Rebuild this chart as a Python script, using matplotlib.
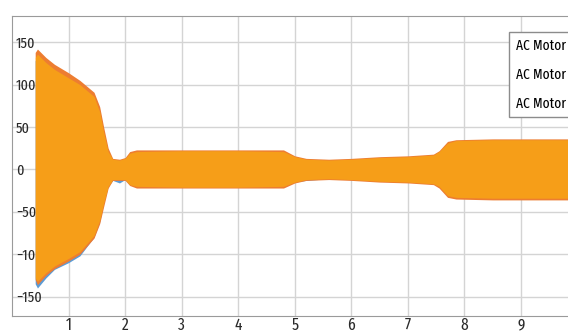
import matplotlib
matplotlib.use('Agg')
import matplotlib.pyplot as plt
import numpy as np

plt.rcParams['font.family'] = ['Fira Sans Extra Condensed', 'DejaVu Sans']

# envelope of the three phase currents (seconds, amps)
t = [0.41, 0.45, 0.6, 0.75, 1.0, 1.2, 1.45, 1.55, 1.62, 1.7, 1.78, 1.9, 2.0, 2.08, 2.2,
     3.0, 4.0, 4.8, 5.0, 5.2, 5.6, 6.0, 6.5, 7.0, 7.45, 7.55, 7.7, 7.85, 8.5, 9.0, 10.0]
i1_upper = [128, 134, 128, 120, 110, 102, 88, 70, 45, 22, 12, 11, 13, 19, 21,
            21, 21, 21, 15, 12, 11, 12, 14, 15, 17, 21, 30, 33, 34, 34, 34]
i1_lower = [-135, -140, -128, -118, -110, -102, -80, -62, -40, -20, -13, -16, -12, -18, -21,
            -21, -21, -21, -15, -13, -11, -12, -14, -15, -17, -21, -31, -33, -34, -34, -34]
i2_upper = [138, 142, 132, 124, 114, 105, 91, 74, 50, 25, 13, 12, 14, 21, 23,
            23, 23, 23, 16, 13, 12, 13, 15, 16, 18, 22, 33, 35, 36, 36, 36]
i2_lower = [-130, -136, -125, -117, -108, -100, -81, -64, -44, -22, -13, -13, -13, -19, -22,
            -22, -22, -22, -16, -13, -12, -13, -15, -16, -18, -22, -33, -35, -36, -36, -36]
i3_upper = [132, 136, 126, 118, 108, 100, 86, 68, 44, 21, 12, 11, 13, 19, 21,
            22, 22, 21, 15, 12, 11, 12, 14, 15, 17, 21, 31, 34, 35, 35, 35]
i3_lower = [-128, -132, -122, -114, -105, -97, -78, -60, -40, -20, -12, -12, -12, -18, -20,
            -21, -21, -20, -15, -12, -11, -12, -14, -15, -17, -20, -31, -33, -34, -34, -34]
labels = ['AC Motor - I1', 'AC Motor - I2', 'AC Motor - I3']
colors = ['#5B9BD5', '#ED7D31', '#FFC000']
alphas = [1.0, 1.0, 0.5]

fig = plt.figure(figsize=(5.68, 3.35), dpi=100)
ax = fig.add_axes([12/568, 19/335, 1 - 12/568, 300/335])

phases = [(i1_upper, i1_lower), (i2_upper, i2_lower), (i3_upper, i3_lower)]
handles = []
for (up, lo), c, a, lab in zip(phases, colors, alphas, labels):
    h = ax.fill_between(t, lo, up, color=c, alpha=a, linewidth=0, label=lab)
    handles.append(h)

ax.set_xlim(0, 9.83)
ax.set_ylim(-173, 181)
ax.set_xticks(range(1, 10))
ax.set_yticks([-150, -100, -50, 0, 50, 100, 150])
ax.grid(True, color='#d4d4d4', linewidth=1)
ax.set_axisbelow(True)

for s in ['top', 'left', 'bottom']:
    ax.spines[s].set_color('#9a9a9a')
ax.spines['right'].set_visible(False)

ax.tick_params(axis='x', length=0, pad=1, labelsize=12, colors='#2a2a2a')
ax.tick_params(axis='y', length=0, direction='in', pad=-3, labelsize=11, colors='#2a2a2a')
for lbl in ax.get_yticklabels():
    lbl.set_horizontalalignment('left')

leg = fig.legend(handles=handles, labels=labels, loc='upper left',
                 bbox_to_anchor=(502/568, 1 - 25/335), bbox_transform=fig.transFigure,
                 handlelength=0, handletextpad=0, fontsize=10.5, fancybox=False,
                 framealpha=1, edgecolor='#8c8c8c', labelspacing=1.0, borderpad=0.45)
for h in leg.legend_handles:
    h.set_visible(False)

fig.savefig('out.png', dpi=100)
